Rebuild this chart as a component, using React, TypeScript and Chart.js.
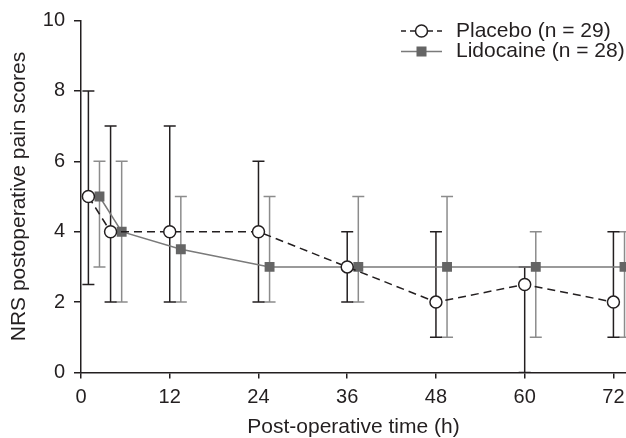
import React, { useEffect, useRef } from "react";
import { Chart, registerables } from "chart.js";

Chart.register(...registerables);

// ---- Data (medians with ranges) ----
const placeboTimes = [1, 4, 12, 24, 36, 48, 60, 72];
const placeboMedian = [5, 4, 4, 4, 3, 2, 2.5, 2];
const placeboLow = [2.5, 2, 2, 2, 2, 1, 0, 1];
const placeboHigh = [8, 7, 7, 6, 4, 4, 3, 4];

const lidocaineTimes = [2.5, 5.5, 13.5, 25.5, 37.5, 49.5, 61.5, 73.5];
const lidocaineMedian = [5, 4, 3.5, 3, 3, 3, 3, 3];
const lidocaineLow = [3, 2, 2, 2, 2, 1, 1, 1];
const lidocaineHigh = [6, 6, 5, 5, 5, 5, 4, 4];

const xTicks = [0, 12, 24, 36, 48, 60, 72];
const yTicks = [0, 2, 4, 6, 8, 10];
const seriesLabels = ["Placebo (n = 29)", "Lidocaine (n = 28)"];
const xTitle = "Post-operative time (h)";
const yTitle = "NRS postoperative pain scores";

const FONT = "'Liberation Sans', Arial, Helvetica, sans-serif";
const INK = "#231f20";
const PLACEBO = "#231f20";
const LIDO_LINE = "#7a7a7a";
const LIDO_POINT = "#656565";
const LIDO_ERR = "#8c8c8c";

const errorBarPlugin = {
  id: "errorBars",
  beforeDatasetsDraw(chart: any) {
    const { ctx, chartArea, scales } = chart;
    const x = scales.x;
    const y = scales.y;
    ctx.save();
    ctx.beginPath();
    ctx.rect(chartArea.left, chartArea.top - 4, chartArea.right - chartArea.left + 4, chartArea.bottom - chartArea.top + 4);
    ctx.clip();
    const order = [...chart.data.datasets.keys()].reverse();
    order.forEach((i: number) => {
      const ds: any = chart.data.datasets[i];
      ctx.strokeStyle = ds.errColor;
      ctx.lineWidth = 1.5;
      ctx.setLineDash([]);
      ds.data.forEach((p: any, j: number) => {
        const px = x.getPixelForValue(p.x);
        const lo = y.getPixelForValue(ds.errLow[j]);
        const hi = y.getPixelForValue(ds.errHigh[j]);
        const cap = 6;
        ctx.beginPath();
        ctx.moveTo(px, lo);
        ctx.lineTo(px, hi);
        ctx.moveTo(px - cap, lo);
        ctx.lineTo(px + cap, lo);
        ctx.moveTo(px - cap, hi);
        ctx.lineTo(px + cap, hi);
        ctx.stroke();
      });
    });
    ctx.restore();
  },
};

const legendPlugin = {
  id: "customLegend",
  afterDraw(chart: any) {
    const { ctx } = chart;
    const x0 = 401;
    const x1 = 442;
    const xm = (x0 + x1) / 2;
    const rows = [31, 51.5];
    ctx.save();
    // Placebo sample
    let yy = rows[0];
    ctx.strokeStyle = PLACEBO;
    ctx.lineWidth = 1.5;
    ctx.setLineDash([5, 4]);
    ctx.beginPath();
    ctx.moveTo(x0, yy);
    ctx.lineTo(x1, yy);
    ctx.stroke();
    ctx.setLineDash([]);
    ctx.beginPath();
    ctx.arc(xm, yy, 6, 0, Math.PI * 2);
    ctx.fillStyle = "#fff";
    ctx.fill();
    ctx.stroke();
    // Lidocaine sample
    yy = rows[1];
    ctx.strokeStyle = LIDO_LINE;
    ctx.beginPath();
    ctx.moveTo(x0, yy);
    ctx.lineTo(x1, yy);
    ctx.stroke();
    ctx.fillStyle = LIDO_POINT;
    ctx.fillRect(xm - 5, yy - 5, 10, 10);
    // Text
    ctx.fillStyle = INK;
    ctx.font = `21px ${FONT}`;
    ctx.textBaseline = "middle";
    ctx.textAlign = "left";
    ctx.fillText(seriesLabels[0], 456, rows[0]);
    ctx.fillText(seriesLabels[1], 456, rows[1]);
    ctx.restore();
  },
};

export default function App() {
  const ref = useRef<HTMLCanvasElement | null>(null);

  useEffect(() => {
    if (!ref.current) return;
    const chart = new Chart(ref.current, {
      type: "line",
      data: {
        datasets: [
          {
            label: seriesLabels[0],
            data: placeboTimes.map((t, i) => ({ x: t, y: placeboMedian[i] })),
            borderColor: PLACEBO,
            borderWidth: 1.5,
            borderDash: [8, 5],
            pointStyle: "circle",
            pointRadius: 6,
            pointBackgroundColor: "#ffffff",
            pointBorderColor: PLACEBO,
            pointBorderWidth: 1.5,
            tension: 0,
            errLow: placeboLow,
            errHigh: placeboHigh,
            errColor: PLACEBO,
            clip: 8,
          } as any,
          {
            label: seriesLabels[1],
            data: lidocaineTimes.map((t, i) => ({ x: t, y: lidocaineMedian[i] })),
            borderColor: LIDO_LINE,
            borderWidth: 1.5,
            pointStyle: "rect",
            pointRadius: 7,
            pointBackgroundColor: LIDO_POINT,
            pointBorderColor: LIDO_POINT,
            pointBorderWidth: 0,
            tension: 0,
            errLow: lidocaineLow,
            errHigh: lidocaineHigh,
            errColor: LIDO_ERR,
            clip: 8,
          } as any,
        ],
      },
      options: {
        animation: false,
        responsive: false,
        maintainAspectRatio: false,
        devicePixelRatio: 1,
        layout: { autoPadding: false, padding: { top: 20.5, right: 0, bottom: 0, left: 0 } },
        plugins: { legend: { display: false }, tooltip: { enabled: false } },
        scales: {
          x: {
            type: "linear",
            min: 0,
            max: 73.7,
            afterBuildTicks: (s: any) => {
              s.ticks = xTicks.map((v) => ({ value: v }));
            },
            afterFit: (s: any) => {
              s.height = 65.5;
              s.paddingLeft = 0;
              s.paddingRight = 0;
            },
            grid: { drawOnChartArea: false, drawTicks: true, tickLength: 6, color: INK, lineWidth: 1.5 },
            border: { display: true, color: INK, width: 1.5 },
            ticks: { color: INK, font: { family: FONT, size: 20 }, padding: 7, maxRotation: 0, autoSkip: false },
            title: {
              display: true,
              text: xTitle,
              color: INK,
              font: { family: FONT, size: 21, lineHeight: 1 },
              padding: { top: 0, bottom: 0 },
            },
          },
          y: {
            type: "linear",
            min: 0,
            max: 10,
            afterBuildTicks: (s: any) => {
              s.ticks = yTicks.map((v) => ({ value: v }));
            },
            afterFit: (s: any) => {
              s.width = 81;
              s.paddingTop = 0;
              s.paddingBottom = 0;
            },
            grid: { drawOnChartArea: false, drawTicks: true, tickLength: 7, color: INK, lineWidth: 1.5 },
            border: { display: true, color: INK, width: 1.5 },
            ticks: { color: INK, font: { family: FONT, size: 20 }, padding: 9 },
            title: {
              display: true,
              text: yTitle,
              color: INK,
              font: { family: FONT, size: 21, lineHeight: 1 },
              padding: { top: 9, bottom: 0 },
            },
          },
        },
      },
      plugins: [errorBarPlugin, legendPlugin],
    } as any);
    return () => chart.destroy();
  }, []);

  return (
    <div style={{ position: "absolute", left: 0, top: 0, width: 626, height: 438, background: "#fff" }}>
      <canvas ref={ref} width={626} height={438} style={{ display: "block" }} />
    </div>
  );
}
